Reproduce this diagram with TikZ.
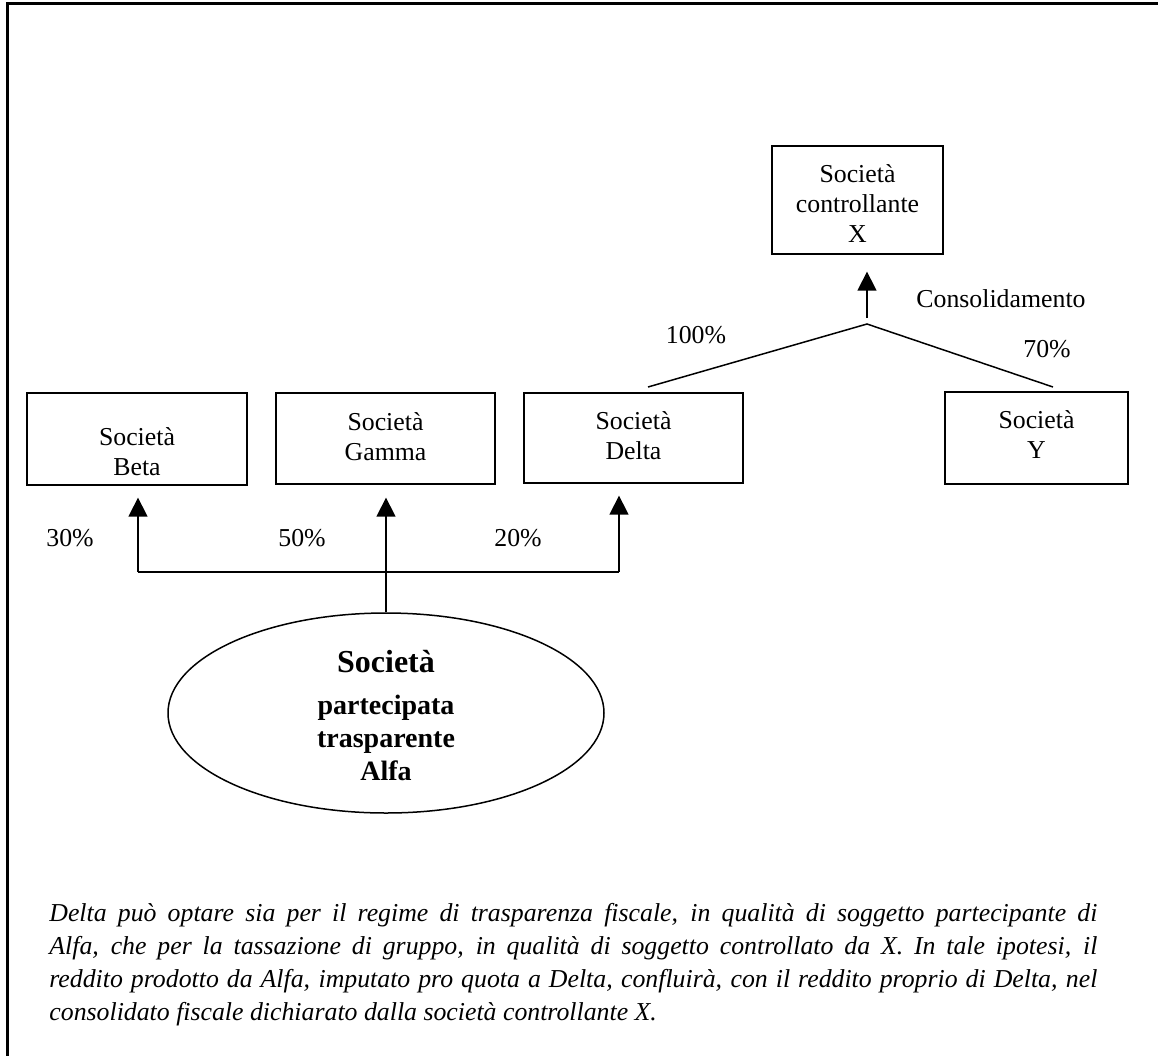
\documentclass[tikz,border=0pt]{standalone}
\usepackage{fontspec}
\setmainfont{Liberation Serif}
\usetikzlibrary{shapes.geometric,arrows.meta,calc}
\newcommand\boxtext[2]{\smash{\raisebox{#1}{\begin{tabular}[t]{@{}c@{}}#2\end{tabular}}}}
\begin{document}
\begin{tikzpicture}[x=0.5pt,y=-0.5pt,
  company/.style={draw, line width=0.65pt, inner sep=0pt, font=\fontsize{12.9}{15}\selectfont},
  conn/.style={line width=0.75pt},
  arr/.style={conn, -{Triangle[width=9.5pt,length=9.5pt]}},
  pct/.style={anchor=base, inner sep=0pt, font=\fontsize{12.9}{15}\selectfont}]
\useasboundingbox (0,0) rectangle (1158,1056);
% frame (left and top edges)
\draw[line width=1.5pt] (7,1056) -- (7,3) -- (1158,3);
% boxes
\node[company, minimum width=85.5pt, minimum height=54pt] (xbox) at (857.5,200) {\boxtext{9pt}{Società\\controllante\\X}};
\node[company, minimum width=110pt, minimum height=46pt] (beta) at (137,439) {\boxtext{-3pt}{Società\\Beta}};
\node[company, minimum width=109.5pt, minimum height=45.5pt] (gamma) at (385.5,438.5) {\boxtext{4.25pt}{Società\\Gamma}};
\node[company, minimum width=109.5pt, minimum height=45pt] (delta) at (633.5,438) {\boxtext{4.5pt}{Società\\Delta}};
\node[company, minimum width=91.5pt, minimum height=46pt] (ybox) at (1036.5,438) {\boxtext{5pt}{Società\\Y}};
% ellipse
\node[ellipse, draw, line width=0.75pt, minimum width=218pt, minimum height=100pt, inner sep=0pt,
  font=\bfseries\fontsize{14}{16.5}\selectfont] (alfa) at (386,713)
  {\boxtext{20.5pt}{{\fontsize{16}{16.5}\selectfont Società}\\[4.5pt]partecipata\\trasparente\\Alfa}};
% lower connectors
\coordinate (hb) at (138,572);
\coordinate (hd) at (619,572);
\draw[conn] (hb) -- (hd);
\draw[arr, shorten >=6pt] (hb) -- (hb |- beta.south);
\draw[arr, shorten >=6.5pt] (alfa.north) -- (alfa.north |- gamma.south);
\draw[arr, shorten >=6pt] (hd) -- (hd |- delta.south);
% upper connectors
\coordinate (apex) at (867,324);
\coordinate (dtop) at (648,387);
\coordinate (ytop) at (1053,387);
\draw[conn] (dtop) -- (apex) -- (ytop);
\draw[arr, shorten <=3pt, shorten >=8.5pt] (apex) -- (apex |- xbox.south);
% labels
\node[pct] (p30) at (70,546) {30\%};
\node[pct] (p50) at (302,546) {50\%};
\node[pct] (p20) at (518,546) {20\%};
\node[pct] (p100) at (696,343) {100\%};
\node[pct] (p70) at (1047,357) {70\%};
\node[pct] (cons) at (1001,307) {Consolidamento};
% note
\node[anchor=north west, inner sep=0pt, text width=524pt, align=justify,
  font=\itshape\fontsize{12.9}{16.5}\selectfont] (note) at (49,903)
  {Delta può optare sia per il regime di trasparenza fiscale, in qualità di soggetto partecipante di\linebreak
   Alfa, che per la tassazione di gruppo, in qualità di soggetto controllato da X. In tale ipotesi, il\linebreak
   reddito prodotto da Alfa, imputato pro quota a Delta, confluirà, con il reddito proprio di Delta, nel\linebreak
   consolidato fiscale dichiarato dalla società controllante X.};
\end{tikzpicture}
\end{document}
